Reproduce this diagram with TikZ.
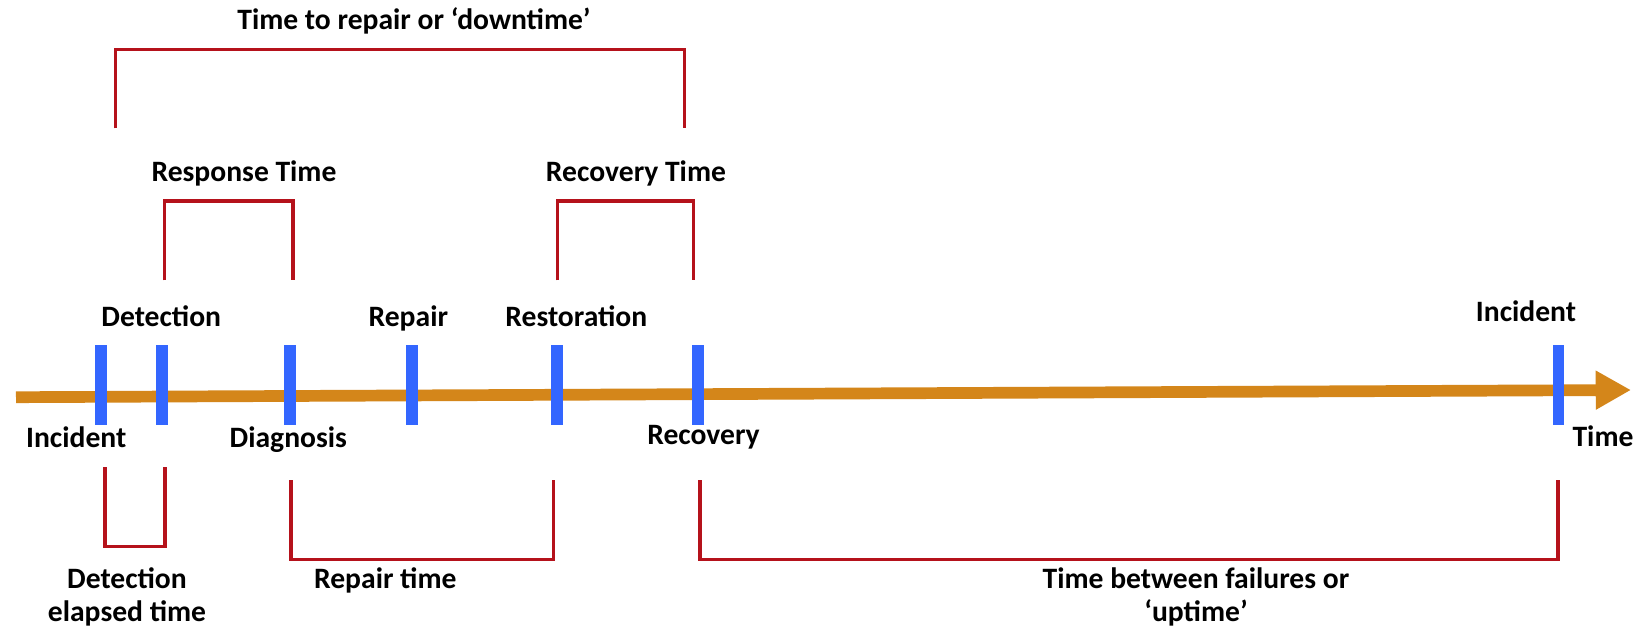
\documentclass[tikz,border=0pt]{standalone}
\usepackage{fontspec}
\setmainfont{Carlito}
\usetikzlibrary{arrows.meta}
\definecolor{axisorange}{HTML}{D4861A}
\definecolor{tickblue}{HTML}{3366FF}
\definecolor{brred}{HTML}{B5121B}
\tikzset{
  tickbar/.style={draw=none, fill=tickblue, minimum width=11.7pt, minimum height=79.4pt, inner sep=0pt},
  lbl/.style={font=\fontsize{29.6}{32.7}\selectfont\bfseries, inner sep=0pt, anchor=base},
  brk/.style={draw=brred, line width=3.3pt, line join=miter},
}
\begin{document}
\begin{tikzpicture}[x=1pt, y=-1pt]
\useasboundingbox (0,0) rectangle (1649,627);
\fill[white] (0,0) rectangle (1649,627);
% axis
\coordinate (axL) at (16,397.2);
\coordinate (axR) at (1631,390);
\draw[axisorange, line width=11.7pt, -{Triangle[length=35.3pt, width=36.7pt]}] (axL) -- (axR);
% ticks
\node[tickbar] (t1) at (100.7,385) {};
\node[tickbar] (t2) at (162,385) {};
\node[tickbar] (t3) at (290.3,385) {};
\node[tickbar] (t4) at (412,385) {};
\node[tickbar] (t5) at (556.7,385) {};
\node[tickbar] (t6) at (697.7,385) {};
\node[tickbar] (t7) at (1558.5,385) {};
% tick labels
\node[lbl] (lDet) at (161.3,326.3) {Detection};
\node[lbl] (lRep) at (408.3,326.3) {Repair};
\node[lbl] (lRes) at (576.3,326.3) {Restoration};
\node[lbl] (lInc2) at (1526,321.7) {Incident};
\node[lbl] (lInc1) at (76.2,447) {Incident};
\node[lbl] (lDia) at (288.3,447) {Diagnosis};
\node[lbl] (lRec) at (703.5,444.5) {Recovery};
\node[lbl] (lTime) at (1603,446) {Time};
% bracket labels
\node[lbl] (bTop) at (414,29.3) {Time to repair or ‘downtime’};
\node[lbl] (bResp) at (244,181) {Response Time};
\node[lbl] (bRecT) at (636,181) {Recovery Time};
\node[lbl] (bDet) at (127,588.3) {\begin{tabular}[t]{@{}c@{}}Detection\\elapsed time\end{tabular}};
\node[lbl] (bRepT) at (385.3,588.3) {Repair time};
\node[lbl] (bUp) at (1196,588.3) {\begin{tabular}[t]{@{}c@{}}Time between failures or\\‘uptime’\end{tabular}};
% brackets
\draw[brk] (115.7,128.3) -- (115.7,49.3) -- (684.3,49.3) -- (684.3,128.3);
\draw[brk] (164.3,280.3) -- (164.3,201) -- (293,201) -- (293,280.3);
\draw[brk] (557.5,280.3) -- (557.5,201) -- (693.8,201) -- (693.8,280.3);
\draw[brk] (105,467) -- (105,546.7) -- (165,546.7) -- (165,467);
\draw[brk] (291,480) -- (291,559.3) -- (553.3,559.3) -- (553.3,480);
\draw[brk] (700,480) -- (700,559.3) -- (1558,559.3) -- (1558,480);
\end{tikzpicture}
\end{document}
